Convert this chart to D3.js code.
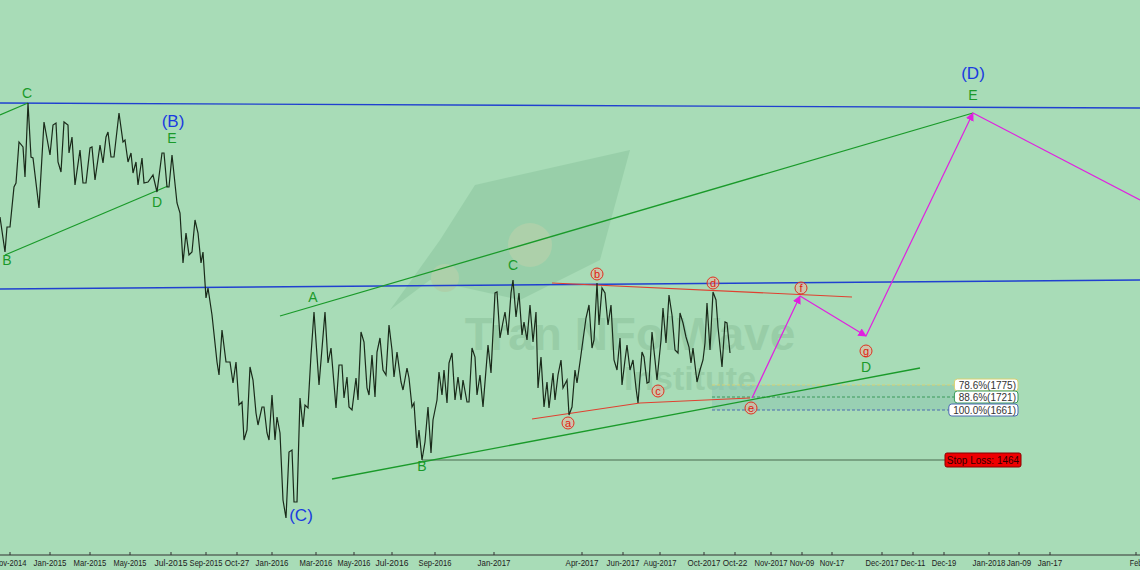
<!DOCTYPE html>
<html lang="en">
<head>
<meta charset="utf-8">
<script src="https://cdnjs.cloudflare.com/ajax/libs/d3/7.8.5/d3.min.js"></script>
<style>
body{margin:0;background:#a8dcb7;}
svg{display:block;font-family:"Liberation Sans",Arial,sans-serif;}
</style>
</head>
<body>
<script>
// session index (chart time units) and closing values (chart price units)
var sessions = [0,5,7,10,14,16,19,23,25,28,31,33,39,44,50,53,56,58,61,64,68,69,72,75,80,83,86,90,92,95,100,103,106,108,111,114,119,123,125,128,131,133,136,138,142,144,148,153,157,162,164,167,169,172,177,180,183,186,189,192,195,198,201,203,206,208,212,217,219,222,226,230,233,236,239,242,244,247,250,253,256,258,262,264,267,269,272,275,277,280,283,286,289,292,294,297,300,303,305,308,311,314,319,325,328,331,336,339,342,344,347,349,352,356,358,361,364,367,369,372,375,377,380,383,386,389,392,394,397,401,403,407,409,412,414,417,419,422,425,428,431,433,437,439,442,444,447,449,452,455,458,461,463,467,469,472,475,477,480,483,488,491,495,497,500,503,505,508,511,513,516,519,522,524,527,530,533,536,538,541,544,547,549,553,555,558,561,563,567,569,572,575,577,580,583,586,589,592,594,597,599,602,605,608,611,614,617,620,622,625,627,630,633,636,638,642,644,647,649,652,655,657,661,663,666,669,672,675,678,680,683,686,689,691,693,697,700,703,705,707,710,713,716,718,722,725,727,730];
var prices = [2432,2292,2392,2392,2552,2568,2732,2712,2592,2888,2672,2668,2468,2812,2680,2800,2808,2652,2612,2812,2800,2688,2752,2560,2700,2568,2568,2708,2712,2580,2720,2648,2752,2772,2672,2672,2848,2732,2740,2652,2688,2608,2652,2560,2668,2568,2572,2600,2532,2688,2688,2552,2552,2680,2488,2448,2248,2368,2280,2292,2420,2368,2248,2292,2108,2148,2040,1852,1800,1980,1852,1852,1768,1852,1680,1692,1540,1580,1832,1780,1648,1600,1672,1672,1568,1540,1720,1540,1632,1568,1300,1228,1492,1500,1292,1292,1708,1592,1680,1668,1880,2052,1760,2052,1848,1908,1668,1840,1840,1708,1792,1672,1660,1788,1700,1972,1932,1748,1720,1880,1712,1892,1948,1820,1800,2000,1900,1792,1892,1772,1740,1828,1788,1672,1688,1508,1580,1460,1532,1672,1488,1620,1700,1812,1720,1820,1688,1848,1888,1700,1792,1700,1780,1692,1692,1908,1872,1720,1800,1672,1920,1808,2128,2132,1948,2012,2052,1960,2128,2180,2032,2128,1960,2012,1940,2080,1932,2052,1748,1872,1672,1772,1668,1808,1700,1800,1860,1748,1780,1640,1672,1820,1768,1852,1940,2028,2080,1908,1940,2168,2000,2148,2128,2000,2080,1860,1820,1948,1760,1860,1920,1820,1860,1748,1688,1892,1872,1768,1772,1972,1860,1780,1940,2068,1928,2120,2040,1900,1888,2048,2008,1952,1912,1848,1908,1772,1820,1860,1928,2088,1900,2132,2100,1992,1832,2012,2008,1888];

var tickSessions = [10,50,90,130,171,206,237,272,316,354,392,435,494,582,623,660,704,735,771,802,832,882,913,944,989,1019,1050,1136];
var tickLabels = ["Nov-2014","Jan-2015","Mar-2015","May-2015","Jul-2015","Sep-2015","Oct-27","Jan-2016","Mar-2016","May-2016","Jul-2016","Sep-2016","Jan-2017","Apr-2017","Jun-2017","Aug-2017","Oct-2017","Oct-22","Nov-2017","Nov-09","Nov-17","Dec-2017","Dec-11","Dec-19","Jan-2018","Jan-09","Jan-17","Feb"];

// trend lines [s1,p1,s2,p2]
var blueLines = [[0,2888,1140,2868],[0,2144,1140,2180]];
var greenLines = [[0,2840,28,2888],[5,2280,168,2556],[280,2036,973,2848],[332,1384,920,1828]];
var redLines = [[552,2168,852,2112],[532,1624,640,1688],[640,1688,750,1708]];
var projSessions = [752,800,866,973,1140];
var projPrices = [1708,2116,1956,2848,2500];

var fibLabels = ["78.6%(1775)","88.6%(1721)","100.0%(1661)"];
var fibValues = [1760,1712,1660];
var fibColors = ["#d8d070","#3a9a5a","#4a6ab0"];
var stopValue = 1460;

var waveGreen = [["C",27,2908],["B",7,2240],["D",157,2472],["E",172,2728],["A",313,2092],["B",422,1416],["C",513,2220],["D",866,1812],["E",973,2900]];
var waveBlue = [["(B)",173,2792],["(C)",301,1216],["(D)",973,2984]];
var waveRed = [["a",568,1608],["b",597,2204],["c",658,1736],["d",713,2168],["e",751,1668],["f",801,2148],["g",866,1896]];

var w = 1140, h = 570;
var x = d3.scaleLinear().domain([0,1140]).range([0,w]);
var y = d3.scaleLinear().domain([1460,1760]).range([460,385]);

var svg = d3.select('body').append('svg').attr('width',w).attr('height',h);
svg.append('rect').attr('width',w).attr('height',h).attr('fill','#a8dcb7');

// watermark
var wm = svg.append('g').attr('opacity',0.12);
wm.append('path').attr('d','M475,185 L630,150 L600,260 L520,300 L430,280 L390,310 L440,240 Z').attr('fill','#2a7a4a');
wm.append('circle').attr('cx',530).attr('cy',245).attr('r',22).attr('fill','#d08050');
wm.append('circle').attr('cx',445).attr('cy',278).attr('r',14).attr('fill','#d08050');
wm.append('text').attr('x',630).attr('y',350).attr('text-anchor','middle').attr('font-size',46).attr('font-weight','bold').attr('fill','#2a6a3a').text('Tran NFolWave');
wm.append('text').attr('x',690).attr('y',390).attr('text-anchor','middle').attr('font-size',34).attr('font-weight','bold').attr('fill','#2a6a3a').text('Institute');

// fib zone
svg.append('rect').attr('x',x(712)).attr('y',y(fibValues[0])).attr('width',x(970)-x(712))
  .attr('height',y(fibValues[2])-y(fibValues[0])).attr('fill','#8fc8b0').attr('opacity',0.6);
svg.append('g').selectAll('line').data(fibValues).enter().append('line')
  .attr('x1',x(712)).attr('x2',x(970)).attr('y1',d=>y(d)).attr('y2',d=>y(d))
  .attr('stroke',(d,i)=>fibColors[i]).attr('stroke-dasharray','3,2');

var seg = (sel,data,color,width)=>sel.append('g').selectAll('line').data(data).enter().append('line')
  .attr('x1',d=>x(d[0])).attr('y1',d=>y(d[1])).attr('x2',d=>x(d[2])).attr('y2',d=>y(d[3]))
  .attr('stroke',color).attr('stroke-width',width);

seg(svg,[[422,stopValue,945,stopValue]],'#4a6a50',1.2);
seg(svg,blueLines,'#2040d0',1.4);
seg(svg,greenLines,'#1a9a2a',1.3);
seg(svg,redLines,'#e04030',1.1);

// price line
svg.append('path').datum(d3.zip(sessions,prices))
  .attr('d',d3.line().x(d=>x(d[0])).y(d=>y(d[1])))
  .attr('fill','none').attr('stroke','#1a2a1a').attr('stroke-width',1.2);

// projection
svg.append('defs').append('marker').attr('id','arr').attr('viewBox','0 0 10 10').attr('refX',9).attr('refY',5)
  .attr('markerWidth',7).attr('markerHeight',7).attr('orient','auto')
  .append('path').attr('d','M0,0 L10,5 L0,10 Z').attr('fill','#e020e0');
var proj = d3.zip(projSessions,projPrices);
svg.append('g').selectAll('line').data(d3.pairs(proj)).enter().append('line')
  .attr('x1',d=>x(d[0][0])).attr('y1',d=>y(d[0][1])).attr('x2',d=>x(d[1][0])).attr('y2',d=>y(d[1][1]))
  .attr('stroke','#e020e0').attr('stroke-width',1.2)
  .attr('marker-end',(d,i)=>i<3?'url(#arr)':null);

// labels
svg.append('g').selectAll('text').data(waveGreen).enter().append('text')
  .attr('x',d=>x(d[1])).attr('y',d=>y(d[2])).attr('text-anchor','middle').attr('font-size',14)
  .attr('fill','#1a9a2a').text(d=>d[0]);
svg.append('g').selectAll('text').data(waveBlue).enter().append('text')
  .attr('x',d=>x(d[1])).attr('y',d=>y(d[2])).attr('text-anchor','middle').attr('font-size',17)
  .attr('fill','#1a3ae0').text(d=>d[0]);
var rg = svg.append('g').selectAll('g').data(waveRed).enter().append('g')
  .attr('transform',d=>`translate(${x(d[1])},${y(d[2])})`);
rg.append('circle').attr('r',6).attr('fill','#f0b0a0').attr('fill-opacity',0.5).attr('stroke','#e03020');
rg.append('text').attr('text-anchor','middle').attr('dy','0.35em').attr('font-size',11).attr('fill','#e02010').text(d=>d[0]);

// fib labels
var fl = svg.append('g').selectAll('g').data(fibLabels).enter().append('g')
  .attr('transform',(d,i)=>`translate(${x(1020)},${y(fibValues[i])})`);
fl.append('rect').attr('x',d=>-d.length*5.6-4).attr('y',-6).attr('width',d=>d.length*5.6+2).attr('height',12).attr('rx',3)
  .attr('fill','white').attr('stroke',(d,i)=>fibColors[i]);
fl.append('text').attr('x',-4).attr('text-anchor','end').attr('dy','0.35em').attr('font-size',10).attr('fill','#333').text(d=>d);

var sl = svg.append('g').attr('transform',`translate(${x(945)},${y(stopValue)})`);
sl.append('rect').attr('x',0).attr('y',-7).attr('width',76).attr('height',14).attr('rx',2).attr('fill','#ee0000').attr('stroke','#800');
sl.append('text').attr('x',38).attr('dy','0.35em').attr('text-anchor','middle').attr('font-size',10).attr('fill','#300').text('Stop Loss: 1464');

// axis
var ax = svg.append('g').attr('transform','translate(0,555)');
ax.append('line').attr('x1',0).attr('x2',w).attr('stroke','#333');
ax.selectAll('.t').data(tickSessions).enter().append('line')
  .attr('x1',d=>x(d)).attr('x2',d=>x(d)).attr('y1',-3).attr('y2',0).attr('stroke','#333');
ax.selectAll('text').data(tickSessions).enter().append('text')
  .attr('x',d=>x(d)).attr('y',11).attr('text-anchor','middle').attr('font-size',9).attr('fill','#222')
  .attr('textLength',(d,i)=>tickLabels[i].length*4.1).attr('lengthAdjust','spacingAndGlyphs')
  .text((d,i)=>tickLabels[i]);
</script>
</body>
</html>
